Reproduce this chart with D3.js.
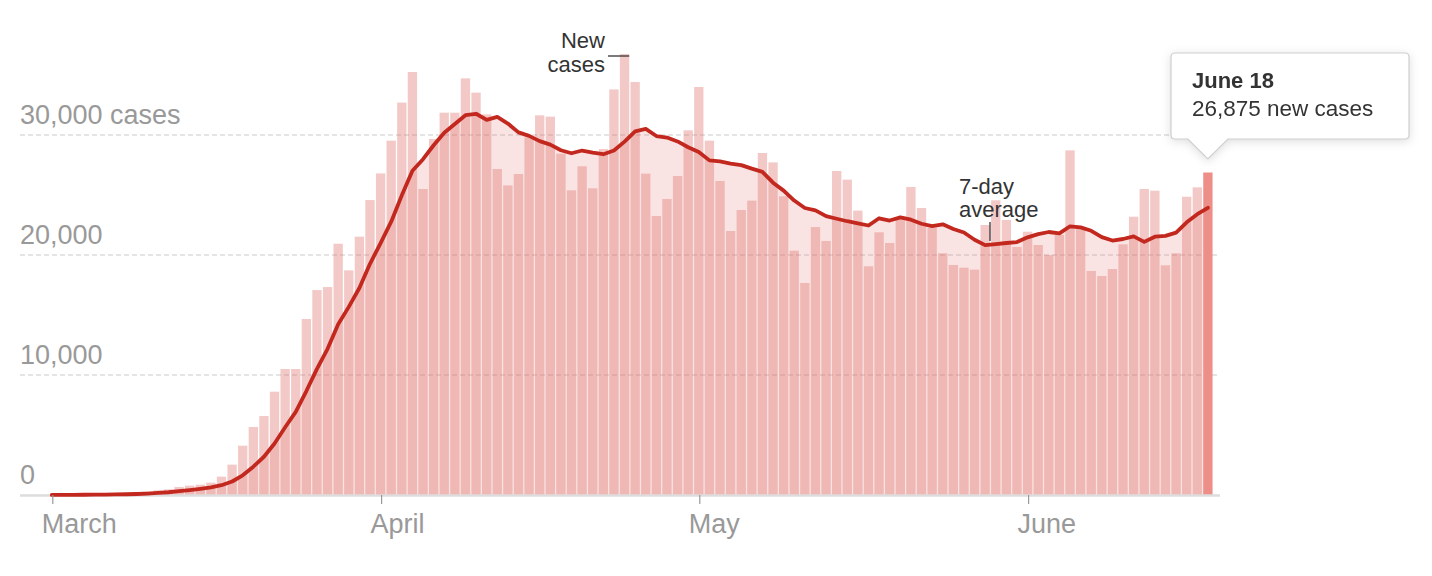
<!DOCTYPE html>
<html>
<head>
<meta charset="utf-8">
<script src="https://cdn.jsdelivr.net/npm/d3@7"></script>
<style>
  html, body { margin: 0; padding: 0; background: #fff; }
  svg { display: block; font-family: "Liberation Sans", Arial, Helvetica, sans-serif; }
</style>
</head>
<body>
<svg id="chart" width="1432" height="576"></svg>
<script>
// ---------- data ----------
const startDay = new Date(2020, 2, 1);   // March 1, 2020
const endDay = new Date(2020, 5, 19);    // exclusive: last day June 18
const days = d3.timeDay.range(startDay, endDay);

const newCases = [
  10, 20, 25, 30, 60, 70, 110, 120, 170, 280,
  380, 470, 670, 780, 860, 1030, 1530, 2530, 4110, 5670,
  6580, 8610, 10500, 10500, 14670, 17080, 17330, 20940, 18720, 21530,
  24580, 26800, 29530, 32700, 35250, 25500, 29670, 31860, 31860, 34720,
  33530, 31720, 27170, 25800, 26750, 29800, 31640, 31530, 28440, 25390,
  27390, 25560, 28830, 33800, 36750, 34420, 26780, 23250, 24670, 26580,
  30390, 34000, 29530, 26170, 22000, 23750, 24530, 28500, 27720, 24890,
  20360, 17670, 22330, 21170, 27000, 26280, 23700, 19060, 21890, 21000,
  23000, 25670, 23920, 22280, 20140, 19170, 18940, 18780, 22500, 24560,
  22920, 20670, 21940, 20830, 20000, 21670, 28720, 22300, 18670, 18250,
  18830, 20890, 23190, 25500, 25360, 19140, 20140, 24860, 25640, 26875
];

const avgCases = [
  10, 15, 18, 21, 29, 36, 46, 62, 84, 120,
  170, 229, 314, 410, 516, 639, 817, 1124, 1644, 2359,
  3187, 4294, 5647, 6929, 8663, 10516, 12181, 14233, 15677, 17253,
  19264, 20997, 22776, 24971, 27016, 27984, 29147, 30187, 30910, 31651,
  31770, 31266, 31504, 30951, 30221, 29927, 29487, 29201, 28733, 28479,
  28706, 28536, 28397, 28706, 29451, 30306, 30504, 29913, 29786, 29464,
  28977, 28584, 27886, 27799, 27620, 27489, 27196, 26926, 26029, 25366,
  24536, 23917, 23714, 23234, 23020, 22814, 22644, 22459, 23061, 22871,
  23133, 22943, 22606, 22403, 22557, 22169, 21874, 21271, 20819, 20910,
  21001, 21077, 21473, 21743, 21917, 21799, 22393, 22304, 22019, 21491,
  21206, 21333, 21550, 21090, 21527, 21594, 21864, 22726, 23404, 23931
];

const yTickValues = [0, 10000, 20000, 30000];
const yTickLabels = ["0", "10,000", "20,000", "30,000 cases"];
const xTickDays = [new Date(2020, 2, 1), new Date(2020, 3, 1), new Date(2020, 4, 1), new Date(2020, 5, 1)];
const xTickLabels = ["March", "April", "May", "June"];

const tooltipTitle = "June 18";
const tooltipText = "26,875 new cases";

// ---------- scales ----------
const svg = d3.select("#chart");
const x = d3.scaleBand()
  .domain(days.map(d => +d))
  .range([46.5, 1213.2])
  .paddingInner(0.12)
  .paddingOuter(0.06);
const y = d3.scaleLinear().domain([0, 30000]).range([495, 135]);
const cx = d => x(+d) + x.bandwidth() / 2;

const data = days.map((d, i) => ({ day: d, value: newCases[i], avg: avgCases[i] }));
const gridLeft = 20, gridRight = 1220;

// ---------- gridlines ----------
const grid = svg.append("g");
grid.selectAll("line")
  .data(yTickValues.filter(v => v > 0))
  .join("line")
  .attr("x1", gridLeft).attr("x2", gridRight)
  .attr("y1", d => y(d)).attr("y2", d => y(d))
  .attr("stroke", "#dcdcdc")
  .attr("stroke-width", 1.5)
  .attr("stroke-dasharray", "5,3");

// ---------- area under 7-day average ----------
const area = d3.area()
  .x(d => cx(d.day))
  .y0(y(0))
  .y1(d => y(d.avg));
svg.append("path")
  .datum(data)
  .attr("d", area)
  .attr("fill", "rgb(222,105,99)")
  .attr("fill-opacity", 0.18);

// ---------- bars ----------
svg.append("g")
  .selectAll("rect")
  .data(data)
  .join("rect")
  .attr("x", d => x(+d.day))
  .attr("width", x.bandwidth())
  .attr("y", d => y(d.value))
  .attr("height", d => y(0) - y(d.value))
  .attr("fill", (d, i) => i === data.length - 1 ? "#ee8e88" : "rgb(222,105,99)")
  .attr("fill-opacity", (d, i) => i === data.length - 1 ? 1 : 0.36);

// ---------- baseline ----------
svg.append("line")
  .attr("x1", gridLeft).attr("x2", gridRight)
  .attr("y1", y(0) + 0.5).attr("y2", y(0) + 0.5)
  .attr("stroke", "#dddddd")
  .attr("stroke-width", 2.5);

// ---------- 7-day average line ----------
const line = d3.line()
  .x(d => cx(d.day))
  .y(d => y(d.avg));
svg.append("path")
  .datum(data)
  .attr("d", line)
  .attr("fill", "none")
  .attr("stroke", "#c3281f")
  .attr("stroke-width", 3.8)
  .attr("stroke-linejoin", "round")
  .attr("stroke-linecap", "round");

// ---------- y labels ----------
svg.append("g")
  .selectAll("text")
  .data(yTickValues)
  .join("text")
  .attr("x", gridLeft)
  .attr("y", d => y(d) - 11)
  .attr("fill", "#999")
  .attr("font-size", 27)
  .text((d, i) => yTickLabels[i]);

// ---------- x axis ticks and labels ----------
const xa = svg.append("g");
xa.selectAll("line")
  .data(xTickDays)
  .join("line")
  .attr("x1", d => cx(d) + 1).attr("x2", d => cx(d) + 1)
  .attr("y1", y(0)).attr("y2", y(0) + 9)
  .attr("stroke", "#999")
  .attr("stroke-width", 1.2);
xa.selectAll("text")
  .data(xTickDays)
  .join("text")
  .attr("x", d => cx(d) - 10)
  .attr("y", 533)
  .attr("fill", "#999")
  .attr("font-size", 27)
  .text((d, i) => xTickLabels[i]);

// ---------- annotations ----------
const peakIdx = newCases.indexOf(d3.max(newCases));
const peak = data[peakIdx];
const ann = svg.append("g").attr("fill", "#333").attr("font-size", 22);
ann.append("text").attr("x", 605).attr("y", 48).attr("text-anchor", "end").text("New");
ann.append("text").attr("x", 605).attr("y", 72).attr("text-anchor", "end").text("cases");
ann.append("line")
  .attr("x1", 608).attr("x2", x(+peak.day) + x.bandwidth())
  .attr("y1", y(peak.value) + 2).attr("y2", y(peak.value) + 2)
  .attr("stroke", "#333").attr("stroke-width", 1.3);

const avgDay = data[89];
ann.append("text").attr("x", 959).attr("y", 194).text("7-day");
ann.append("text").attr("x", 959).attr("y", 217).text("average");
ann.append("line")
  .attr("x1", 990).attr("x2", 990)
  .attr("y1", 222).attr("y2", y(avgDay.avg) - 3)
  .attr("stroke", "#333").attr("stroke-width", 1.3);

// ---------- tooltip ----------
const last = data[data.length - 1];
const tipX = cx(last.day);
const tip = svg.append("g").style("filter", "drop-shadow(0px 2px 5px rgba(0,0,0,0.13))");
const bx = 1171, by = 53, bw = 238, bh = 86;
tip.append("path")
  .attr("d", `M${bx + 4},${by} H${bx + bw - 4} Q${bx + bw},${by} ${bx + bw},${by + 4} V${by + bh - 4} Q${bx + bw},${by + bh} ${bx + bw - 4},${by + bh}
    H${tipX + 20} L${tipX},${by + bh + 20} L${tipX - 20},${by + bh} H${bx + 4} Q${bx},${by + bh} ${bx},${by + bh - 4} V${by + 4} Q${bx},${by} ${bx + 4},${by} Z`)
  .attr("fill", "#fff")
  .attr("stroke", "#cfcfcf")
  .attr("stroke-width", 1.2);
tip.append("text")
  .attr("x", 1192).attr("y", 88)
  .attr("fill", "#333").attr("font-size", 22).attr("font-weight", "bold")
  .text(tooltipTitle);
tip.append("text")
  .attr("x", 1192).attr("y", 116)
  .attr("fill", "#333").attr("font-size", 22.5)
  .text(tooltipText);
</script>
</body>
</html>
